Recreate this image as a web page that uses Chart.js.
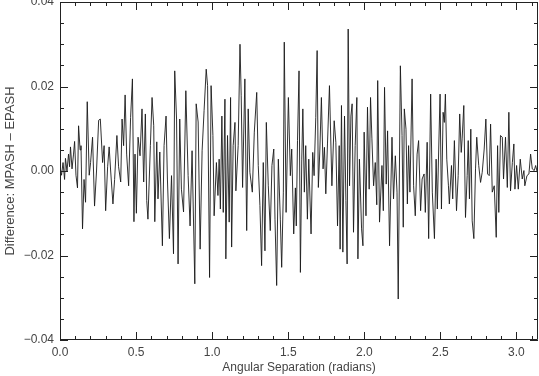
<!DOCTYPE html>
<html>
<head>
<meta charset="utf-8">
<script src="https://cdn.jsdelivr.net/npm/chart.js@4/dist/chart.umd.min.js"></script>
<style>
  html, body { margin: 0; padding: 0; background: #fff; }
  #myCanvas { display: block; }
</style>
</head>
<body>
<canvas id="myCanvas" width="539" height="376"></canvas>
<script>
// angular separation (radians)
const angles = [
  0, 0.010, 0.020, 0.030, 0.036, 0.046, 0.056, 0.063, 0.069, 0.079, 0.089, 0.096, 0.105, 0.115, 0.122, 0.132, 0.138, 0.148, 0.158, 0.168,
  0.179, 0.192, 0.201, 0.214, 0.227, 0.240, 0.254, 0.265, 0.280, 0.290, 0.300, 0.313, 0.323, 0.333, 0.348, 0.359, 0.374, 0.385, 0.399, 0.408,
  0.418, 0.428, 0.438, 0.451, 0.464, 0.476, 0.486, 0.493, 0.502, 0.513, 0.526, 0.539, 0.550, 0.561, 0.570, 0.578, 0.594, 0.605, 0.616, 0.623,
  0.636, 0.644, 0.656, 0.673, 0.684, 0.697, 0.706, 0.719, 0.733, 0.746, 0.754, 0.766, 0.776, 0.787, 0.798, 0.812, 0.827, 0.842, 0.855, 0.868,
  0.886, 0.895, 0.908, 0.921, 0.934, 0.947, 0.961, 0.970, 0.983, 0.993, 1.005, 1.013, 1.028, 1.038, 1.046, 1.054, 1.064, 1.073, 1.084, 1.090,
  1.101, 1.112, 1.121, 1.128, 1.138, 1.150, 1.156, 1.171, 1.183, 1.191, 1.200, 1.215, 1.227, 1.237, 1.248, 1.264, 1.277, 1.293, 1.303, 1.314,
  1.325, 1.336, 1.347, 1.356, 1.369, 1.382, 1.393, 1.405, 1.413, 1.424, 1.435, 1.448, 1.457, 1.468, 1.474, 1.486, 1.501, 1.514, 1.523, 1.536,
  1.547, 1.553, 1.561, 1.571, 1.580, 1.589, 1.596, 1.606, 1.615, 1.626, 1.635, 1.650, 1.661, 1.670, 1.681, 1.690, 1.698, 1.708, 1.718, 1.729,
  1.738, 1.747, 1.758, 1.771, 1.787, 1.802, 1.813, 1.824, 1.835, 1.841, 1.850, 1.859, 1.870, 1.879, 1.887, 1.894, 1.903, 1.912, 1.920, 1.929,
  1.940, 1.951, 1.958, 1.968, 1.982, 1.991, 1.999, 2.011, 2.021, 2.032, 2.041, 2.050, 2.061, 2.072, 2.082, 2.088, 2.100, 2.116, 2.125, 2.133,
  2.144, 2.153, 2.166, 2.182, 2.192, 2.204, 2.215, 2.223, 2.237, 2.248, 2.256, 2.263, 2.274, 2.283, 2.291, 2.300, 2.314, 2.324, 2.335, 2.347,
  2.357, 2.370, 2.380, 2.393, 2.401, 2.413, 2.423, 2.436, 2.447, 2.461, 2.472, 2.480, 2.489, 2.498, 2.507, 2.518, 2.526, 2.533, 2.542, 2.553,
  2.559, 2.573, 2.581, 2.592, 2.606, 2.617, 2.627, 2.637, 2.643, 2.654, 2.665, 2.676, 2.683, 2.691, 2.700, 2.709, 2.720, 2.731, 2.739, 2.752,
  2.764, 2.775, 2.788, 2.799, 2.810, 2.821, 2.830, 2.841, 2.854, 2.867, 2.876, 2.884, 2.895, 2.907, 2.915, 2.928, 2.940, 2.950, 2.961, 2.973,
  2.983, 2.990, 3.001, 3.012, 3.025, 3.038, 3.049, 3.055, 3.069, 3.082, 3.093, 3.104, 3.117, 3.126, 3.137, 3.142
];

// MPASH - EPASH difference at each angle
const diffs = [
  0.0010, -0.0010, 0.0020, -0.0020, 0.0030, 0.0000, 0.0040, 0.0010, 0.0057, 0.0005, 0.0040, 0.0070, -0.0010, -0.0040, 0.0107, 0.0050, 0.0060, -0.0137, -0.0020, -0.0074,
  0.0164, -0.0010, 0.0020, 0.0080, -0.0083, 0.0000, 0.0120, 0.0123, 0.0020, 0.0060, -0.0094, 0.0010, 0.0057, 0.0000, -0.0078, -0.0020, 0.0084, 0.0010, -0.0026, 0.0123,
  0.0060, 0.0180, 0.0040, -0.0035, 0.0127, 0.0218, -0.0120, 0.0040, -0.0100, 0.0080, 0.0036, 0.0147, -0.0026, 0.0135, -0.0070, -0.0114, 0.0060, 0.0174, 0.0107, -0.0120,
  0.0069, -0.0066, 0.0045, -0.0177, 0.0060, 0.0130, -0.0019, -0.0160, -0.0011, -0.0196, 0.0237, 0.0123, -0.0220, 0.0123, -0.0043, -0.0097, 0.0190, -0.0011, -0.0130, 0.0048,
  -0.0267, 0.0159, 0.0116, -0.0185, 0.0048, 0.0143, 0.0241, 0.0202, -0.0252, 0.0202, 0.0084, -0.0106, 0.0020, -0.0058, 0.0028, -0.0090, 0.0130, -0.0098, 0.0170, -0.0208,
  0.0084, -0.0121, 0.0174, -0.0180, 0.0060, 0.0115, -0.0047, 0.0060, 0.0300, 0.0178, -0.0039, 0.0218, -0.0141, 0.0147, -0.0003, -0.0050, 0.0092, 0.0186, 0.0013, -0.0082,
  -0.0224, 0.0020, -0.0189, 0.0115, -0.0035, -0.0141, 0.0013, 0.0052, -0.0114, -0.0271, 0.0028, -0.0114, -0.0228, -0.0050, 0.0305, -0.0098, 0.0174, -0.0011, 0.0052, -0.0149,
  -0.0040, -0.0130, 0.0072, 0.0237, -0.0240, 0.0028, 0.0147, -0.0050, 0.0060, -0.0114, 0.0028, -0.0149, 0.0044, -0.0011, 0.0127, 0.0285, -0.0039, 0.0052, 0.0174, 0.0005,
  0.0056, -0.0054, 0.0064, 0.0202, -0.0035, 0.0119, 0.0068, -0.0130, 0.0060, -0.0185, 0.0155, -0.0192, 0.0130, -0.0070, -0.0220, 0.0336, -0.0035, 0.0130, 0.0159, -0.0145,
  0.0060, 0.0174, -0.0208, 0.0028, -0.0137, -0.0177, 0.0092, -0.0106, 0.0151, -0.0043, 0.0174, 0.0076, -0.0035, 0.0020, -0.0080, 0.0214, -0.0121, 0.0013, -0.0094, 0.0198,
  -0.0031, 0.0095, -0.0177, 0.0080, -0.0066, 0.0036, -0.0050, -0.0303, 0.0249, 0.0084, -0.0133, 0.0147, 0.0099, -0.0078, 0.0060, -0.0050, 0.0218, -0.0035, -0.0106, 0.0040,
  0.0072, -0.0094, -0.0019, -0.0007, -0.0098, 0.0068, -0.0160, 0.0182, -0.0050, -0.0160, 0.0028, -0.0090, 0.0052, 0.0182, -0.0090, 0.0139, 0.0115, 0.0182, 0.0028, -0.0035,
  -0.0078, 0.0013, -0.0066, 0.0072, -0.0094, -0.0011, 0.0135, 0.0044, 0.0076, 0.0155, -0.0110, -0.0011, 0.0072, -0.0066, 0.0099, -0.0118, -0.0160, 0.0005, 0.0080, 0.0013,
  -0.0027, -0.0003, 0.0052, 0.0123, -0.0007, -0.0011, 0.0111, -0.0050, -0.0035, -0.0157, 0.0060, -0.0098, 0.0084, 0.0080, -0.0019, 0.0080, -0.0039, 0.0139, -0.0047, 0.0020,
  0.0064, -0.0043, 0.0013, -0.0043, 0.0028, -0.0019, 0.0001, -0.0035, -0.0011, -0.0007, 0.0040, 0.0005, 0.0001, 0.0013, -0.0003, 0.0020
];

const xTicks = [0, 0.5, 1.0, 1.5, 2.0, 2.5, 3.0];
const yTicks = [-0.04, -0.02, 0.0, 0.02, 0.04];

const xMinorStep = 0.1;
const yMinorStep = 0.005;

const points = angles.map((a, i) => ({ x: a, y: diffs[i] }));

// IDL-style frame with ticks pointing into the plot on all four sides
const frameTicks = {
  id: "frameTicks",
  afterDraw(chart) {
    const { ctx, chartArea: a, scales } = chart;
    const xs = scales.x, ys = scales.y;
    ctx.save();
    ctx.strokeStyle = "#222";
    ctx.lineWidth = 1;
    ctx.beginPath();
    ctx.rect(a.left + 0.5, a.top + 0.5, a.right - a.left - 1, a.bottom - a.top - 1);
    ctx.stroke();

    ctx.beginPath();
    for (let v = 0; v <= Math.PI + 1e-9; v += xMinorStep) {
      const major = xTicks.some(t => Math.abs(t - v) < 1e-6);
      const len = major ? 8 : 4;
      const px = Math.round(xs.getPixelForValue(v)) + 0.5;
      ctx.moveTo(px, a.bottom);
      ctx.lineTo(px, a.bottom - len);
      ctx.moveTo(px, a.top);
      ctx.lineTo(px, a.top + len);
    }
    for (let v = -0.04; v <= 0.04 + 1e-9; v += yMinorStep) {
      const major = yTicks.some(t => Math.abs(t - v) < 1e-6);
      const len = major ? 8 : 4;
      const py = Math.round(ys.getPixelForValue(v)) + 0.5;
      ctx.moveTo(a.left, py);
      ctx.lineTo(a.left + len, py);
      ctx.moveTo(a.right, py);
      ctx.lineTo(a.right - len, py);
    }
    ctx.stroke();
    ctx.restore();
  }
};

const tickFont = { family: "'Liberation Sans', Arial, sans-serif", size: 12 };

new Chart(document.getElementById("myCanvas").getContext("2d"), {
  type: "line",
  data: {
    datasets: [{
      data: points,
      borderColor: "#1a1a1a",
      borderWidth: 0.9,
      pointRadius: 0,
      tension: 0,
      fill: false
    }]
  },
  options: {
    responsive: false,
    animation: false,
    devicePixelRatio: 1,
    layout: { padding: { top: 2, right: 1, left: 0, bottom: 0 } },
    plugins: {
      legend: { display: false },
      tooltip: { enabled: false }
    },
    scales: {
      x: {
        type: "linear",
        min: 0,
        max: Math.PI,
        grid: { display: false, drawTicks: false },
        border: { display: false },
        ticks: {
          stepSize: 0.5,
          includeBounds: false,
          autoSkip: false,
          maxRotation: 0,
          padding: 5,
          color: "#444",
          font: tickFont,
          callback: v => v.toFixed(1)
        },
        title: {
          display: true,
          text: "Angular Separation (radians)",
          color: "#444",
          font: tickFont,
          padding: { top: 0, bottom: 1 }
        },
        afterFit: s => { s.height = 36; s.paddingLeft = 0; s.paddingRight = 0; }
      },
      y: {
        min: -0.04,
        max: 0.04,
        grid: { display: false, drawTicks: false },
        border: { display: false },
        ticks: {
          stepSize: 0.02,
          padding: 6,
          color: "#444",
          font: tickFont,
          callback: v => (Math.abs(v) < 1e-9 ? "0.00" : v.toFixed(2).replace("-", "\u2212"))
        },
        title: {
          display: true,
          text: "Difference: MPASH \u2013 EPASH",
          color: "#444",
          font: { family: "'Liberation Sans', Arial, sans-serif", size: 13 },
          padding: { top: 3, bottom: 0 }
        },
        afterFit: s => { s.width = 60; s.paddingTop = 0; s.paddingBottom = 0; }
      }
    }
  },
  plugins: [frameTicks]
});
</script>
</body>
</html>
